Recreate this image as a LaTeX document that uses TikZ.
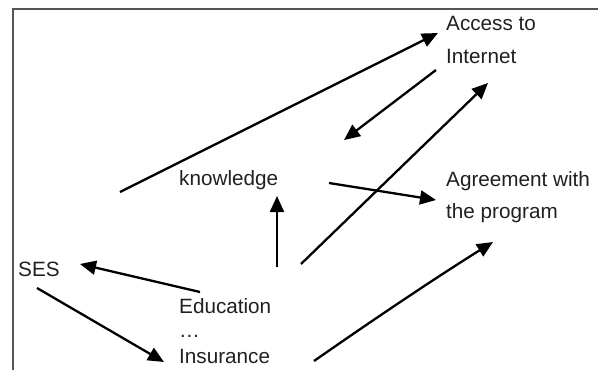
\documentclass[tikz,border=0pt]{standalone}
\usepackage{fontspec}
\setmainfont{Liberation Sans}
\usetikzlibrary{arrows.meta}
\definecolor{txt}{HTML}{231F20}
\definecolor{frame}{HTML}{555555}
\tikzset{
  lbl/.style={anchor=base west, inner sep=0pt, text=txt, font=\fontsize{20.7}{24}\selectfont},
  conn/.style={line width=2.3pt, black, -{Triangle[length=16pt,width=14pt]}},
  frameline/.style={line width=1.6pt, frame},
}
\begin{document}
\begin{tikzpicture}[x=1pt,y=-1pt]
\useasboundingbox (0,0) rectangle (598,370);
% frame
\draw[frameline] (13,370) -- (13,9) -- (598,9);
% labels
\node[lbl] (acc1) at (446,30) {Access to};
\node[lbl] (acc2) at (446,63) {Internet};
\node[lbl] (agr1) at (446,186) {Agreement with};
\node[lbl] (agr2) at (446,218) {the program};
\node[lbl] (know) at (179,185) {knowledge};
\node[lbl] (ses) at (18,276) {SES};
\node[lbl] (edu) at (179,313) {Education};
\node[lbl] (dots) at (179,337) {…};
\node[lbl] (ins) at (179,363) {Insurance};
% connector ends
\coordinate (a1s) at (120,192);
\coordinate (a1e) at (438,33);
\coordinate (a2s) at (436,70);
\coordinate (a2e) at (344,140);
\coordinate (a3s) at (301,264);
\coordinate (a3e) at (488,83);
\coordinate (a4s) at (329,183);
\coordinate (a4e) at (436,200);
\coordinate (a5s) at (277,267);
\coordinate (a5e) at (277,196);
\coordinate (a6s) at (200,292);
\coordinate (a6e) at (80,264);
\coordinate (a7s) at (37,288);
\coordinate (a7e) at (164,362);
\coordinate (a8s) at (314,361);
\coordinate (a8e) at (493,242);
% connectors
\draw[conn] (a1s) -- (a1e);
\draw[conn] (a2s) -- (a2e);
\draw[conn] (a3s) -- (a3e);
\draw[conn] (a4s) -- (a4e);
\draw[conn] (a5s) -- (a5e);
\draw[conn] (a6s) -- (a6e);
\draw[conn] (a7s) -- (a7e);
\draw[conn] (a8s) .. controls (380,315) and (440,275) .. (a8e);
\end{tikzpicture}
\end{document}
